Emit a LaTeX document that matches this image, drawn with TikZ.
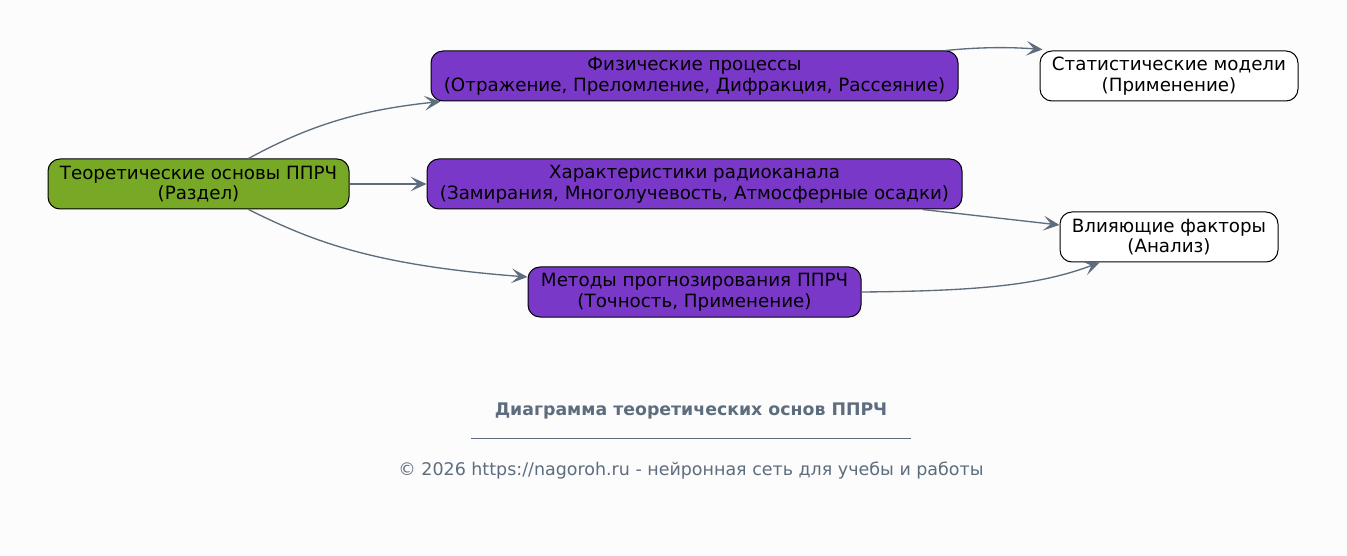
\documentclass[tikz,border=0pt]{standalone}
\usepackage{fontspec}
\setmainfont{DejaVu Sans}
\usetikzlibrary{positioning, calc, arrows.meta}
\definecolor{Root}{HTML}{77A826}
\definecolor{Topic}{HTML}{7A38C8}
\definecolor{Edge}{HTML}{5D6D7E}
\definecolor{Paper}{HTML}{FCFCFC}
\tikzset{
    basenode/.style={rectangle, rounded corners=9pt, draw=black, line width=0.75pt, text=black, align=center, inner sep=0pt, minimum height=37.5pt, font=\fontsize{13.7}{15.5}\selectfont},
    rootnode/.style={basenode, fill=Root},
    topicnode/.style={basenode, fill=Topic},
    leafnode/.style={basenode, fill=white},
    arrow/.style={-{Stealth[length=12pt, width=11pt, inset=5.5pt]}, line width=1pt, color=Edge},
}

\begin{document}
\begin{tikzpicture}[x=0.75pt, y=-0.75pt]
    % Sfondo
    \fill[Paper] (0,0) rectangle (1347,556);
    \useasboundingbox (0,0) rectangle (1347,556);

    % Nodi
    \node[rootnode, minimum width=225.75pt] (root) at (198.5,184) {Теоретические основы ППРЧ\\(Раздел)};
    \node[topicnode, minimum width=395.25pt] (phys) at (694.5,76) {Физические процессы\\(Отражение, Преломление, Дифракция, Рассеяние)};
    \node[topicnode, minimum width=401.25pt] (chan) at (694.5,184) {Характеристики радиоканала\\(Замирания, Многолучевость, Атмосферные осадки)};
    \node[topicnode, minimum width=249.75pt] (meth) at (694.5,292) {Методы прогнозирования ППРЧ\\(Точность, Применение)};
    \node[leafnode, minimum width=193.5pt] (stat) at (1169,76) {Статистические модели\\(Применение)};
    \node[leafnode, minimum width=163.5pt] (infl) at (1169,237) {Влияющие факторы\\(Анализ)};

    % Collegamenti
    \draw[arrow] ($(root.north)+(50,0)$) .. controls (310,125) and (360,110) .. ($(phys.south west)+(10,0)$);
    \draw[arrow] (root.east) -- (chan.west);
    \draw[arrow] ($(root.south)+(50,0)$) .. controls (310,240) and (370,265) .. ($(meth.west)+(0,-15)$);
    \draw[arrow] ($(phys.north east)+(-13,0)$) .. controls (980,47) and (1010,47) .. ($(stat.north west)+(3,-1)$);
    \draw[arrow] ($(chan.south east)+(-40,0)$) -- ($(infl.west)+(0,-12)$);
    \draw[arrow] (meth.east) .. controls (980,291) and (1040,285) .. ($(infl.south west)+(40,0)$);

    % Didascalia
    \node[font=\fontsize{13}{15}\selectfont\bfseries, text=Edge] (title) at (691,411) {Диаграмма теоретических основ ППРЧ};
    \coordinate (rule) at (691,438);
    \draw[Edge, line width=0.6pt] ($(rule)+(-220,0)$) -- ($(rule)+(220,0)$);
    \node[font=\fontsize{13.1}{15}\selectfont, text=Edge] (credit) at (691,471) {© 2026 https://nagoroh.ru - нейронная сеть для учебы и работы};
\end{tikzpicture}
\end{document}
